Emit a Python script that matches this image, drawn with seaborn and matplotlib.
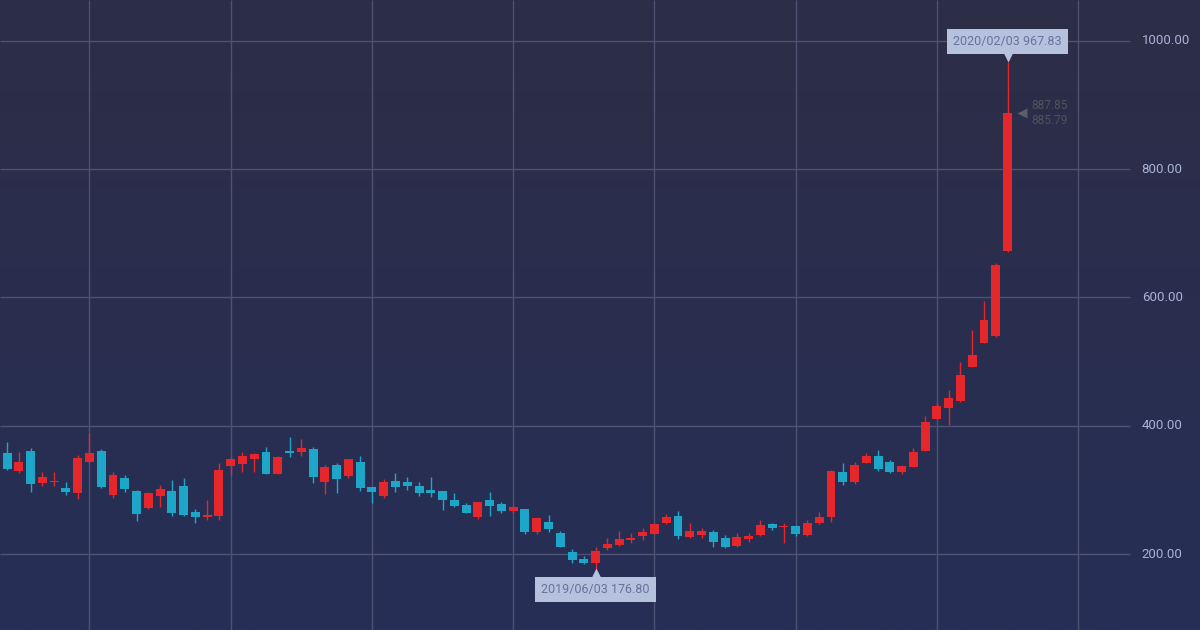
import numpy as np
import pandas as pd
import matplotlib
matplotlib.use("Agg")
import matplotlib.pyplot as plt
import matplotlib.transforms as mtransforms
import seaborn as sns

# weekly candles, 2018/06/18 .. 2020/02/03
opens = [357.5, 329.4, 360.6, 310.7, 312.3, 302.9, 295.1, 343.5, 360.6, 292.0,
         318.5, 298.2, 271.7, 290.4, 298.2, 306.0, 265.5, 257.7, 259.3, 337.2,
         340.4, 348.1, 359.0, 324.7, 360.6, 359.0, 363.7, 312.3, 338.8, 321.6,
         343.5, 304.5, 290.4, 313.8, 312.3, 306.0, 299.8, 298.2, 284.2, 276.4,
         257.7, 284.2, 278.0, 267.1, 270.2, 234.3, 249.9, 232.7, 203.1, 192.2,
         186.0, 209.4, 214.0, 221.8, 228.1, 231.2, 248.3, 259.3, 226.5, 229.6,
         234.3, 225.0, 212.5, 223.4, 229.6, 246.8, 242.1, 243.7, 229.6, 248.3,
         257.7, 327.9, 312.3, 341.9, 352.8, 343.5, 327.9, 335.7, 360.6, 410.5,
         427.7, 438.6, 491.6, 529.0, 540.0, 672.5]
highs = [374.7, 359.0, 365.3, 327.9, 327.9, 312.3, 354.4, 388.7, 363.7, 327.9,
         323.2, 299.8, 296.7, 307.6, 315.4, 318.5, 270.2, 284.2, 341.9, 351.3,
         359.0, 357.5, 366.9, 352.8, 382.5, 379.3, 366.9, 338.8, 341.9, 348.1,
         352.8, 304.5, 317.0, 326.3, 320.1, 312.3, 320.1, 298.2, 295.1, 279.5,
         281.1, 296.7, 281.1, 274.9, 270.2, 257.7, 260.8, 235.9, 207.8, 196.9,
         210.9, 225.0, 235.9, 232.7, 240.5, 248.0, 262.4, 267.1, 248.3, 240.5,
         237.4, 229.6, 232.7, 232.7, 253.0, 248.3, 248.3, 245.2, 253.0, 265.5,
         331.0, 341.9, 343.5, 357.5, 362.2, 346.6, 338.8, 365.3, 415.2, 435.5,
         455.8, 499.4, 549.3, 594.5, 653.8, 967.83]
lows = [331.0, 326.3, 296.7, 306.0, 306.0, 292.0, 285.8, 341.9, 302.9, 287.4,
        296.7, 251.5, 270.2, 273.3, 259.3, 259.3, 248.3, 253.0, 253.0, 323.2,
        327.9, 327.9, 324.7, 324.7, 351.3, 352.8, 310.7, 293.6, 295.1, 318.5,
        298.2, 279.5, 287.4, 296.7, 299.8, 290.4, 288.9, 268.6, 273.3, 263.9,
        254.6, 259.3, 263.9, 263.9, 231.2, 231.2, 234.3, 210.9, 186.0, 184.4,
        176.8, 206.2, 212.5, 217.2, 221.8, 231.2, 246.8, 223.4, 225.0, 225.0,
        210.9, 210.0, 210.9, 218.7, 228.1, 237.4, 217.2, 228.1, 228.1, 246.8,
        249.9, 307.6, 309.2, 341.9, 329.4, 326.3, 324.7, 335.7, 360.6, 410.5,
        401.2, 437.0, 491.6, 529.0, 538.4, 671.0]
closes = [332.6, 343.5, 309.2, 320.1, 313.8, 296.7, 349.7, 357.5, 304.5, 323.2,
          301.4, 262.4, 295.1, 301.4, 263.9, 260.8, 257.7, 260.8, 331.0, 348.1,
          352.8, 355.9, 324.7, 351.3, 357.5, 365.3, 320.1, 335.7, 317.0, 348.1,
          302.9, 296.7, 312.3, 304.5, 306.0, 295.1, 295.1, 284.2, 274.9, 263.9,
          281.1, 274.9, 267.1, 273.3, 234.3, 256.1, 239.0, 210.9, 190.6, 186.0,
          204.7, 215.6, 223.4, 225.0, 234.3, 246.8, 257.7, 228.1, 235.9, 235.9,
          218.7, 210.9, 226.5, 228.1, 245.2, 240.5, 243.7, 231.2, 248.3, 257.7,
          329.4, 312.3, 338.8, 352.8, 332.6, 327.9, 337.2, 359.0, 405.8, 430.8,
          443.3, 479.1, 510.3, 564.9, 650.7, 887.85]
y_ticks = [200, 400, 600, 800, 1000]
last_prices = ["887.85", "885.79"]

dates = pd.date_range("2018-06-18", periods=len(opens), freq="7D")
df = pd.DataFrame({"date": dates, "open": opens, "high": highs,
                   "low": lows, "close": closes})
df["x"] = np.arange(len(df))
df["up"] = df["close"] >= df["open"]

sns.set_theme(style="dark")
plt.rcParams["font.family"] = ["Roboto", "DejaVu Sans"]

UP = "#e5262b"
DOWN = "#1ea6c8"
GRID = "#4d5272"
LABEL = "#a9b3d6"
TIP_BG = "#b6c1de"
TIP_TXT = "#68729a"

fig = plt.figure(figsize=(12, 6.3), dpi=100)

# background gradient
bg = fig.add_axes([0, 0, 1, 1])
top = np.array([0x2d, 0x2d, 0x46]) / 255
bot = np.array([0x26, 0x2f, 0x57]) / 255
t = np.linspace(0, 1, 256)[:, None]
grad = top[None, :] * (1 - t) + bot[None, :] * t
bg.imshow(grad[:, None, :], aspect="auto", extent=[0, 1, 0, 1])
bg.set_axis_off()

ax = fig.add_axes([0, 0, 1, 1])
ax.set_facecolor("none")
ax.set_xlim(-0.6, 101.35)
ax.set_ylim(81.5, 1063.9)
for s in ax.spines.values():
    s.set_visible(False)
ax.set_xticks([])
ax.set_yticks([])
ax.grid(False)

# grid
ax.hlines(y_ticks, -0.6, 95.4, color=GRID, lw=1, zorder=1)
ax.vlines(np.arange(7, 96, 12), 81.5, 1063.9, color=GRID, lw=1, zorder=1)
for v in y_ticks:
    ax.text(96.4, v, f"{v:.2f}", color=LABEL, fontsize=9.5, va="center", ha="left")

# candles
colors = np.where(df["up"], UP, DOWN)
ax.vlines(df["x"], df["low"], df["high"], color=colors, lw=1, zorder=2)
body_low = df[["open", "close"]].min(axis=1)
body_h = (df["close"] - df["open"]).abs().clip(lower=1.5)
ax.bar(df["x"], body_h, bottom=body_low, width=0.76, color=colors,
       linewidth=0, zorder=3)

# max / min tooltips
imax = df["high"].idxmax()
imin = df["low"].idxmin()
for idx, val, dy, mk in [(imax, df.loc[imax, "high"], 14.5, "v"),
                         (imin, df.loc[imin, "low"], -15, "^")]:
    label = f"{df.loc[idx, 'date']:%Y/%m/%d} {val:.2f}"
    ax.annotate(label, (idx, val), xytext=(0, dy), textcoords="offset points",
                ha="center", va="center", fontsize=9, color=TIP_TXT,
                bbox=dict(boxstyle="square,pad=0.5", fc=TIP_BG, ec="none"),
                zorder=5)
    tr = mtransforms.offset_copy(ax.transData, fig=fig, x=0,
                                 y=(4.2 if dy > 0 else -4.0), units="points")
    ax.plot([idx], [val], marker=mk, ms=8, color=TIP_BG, mec="none",
            transform=tr, zorder=5)

# last price marker
last = df.iloc[-1]
tr = mtransforms.offset_copy(ax.transData, fig=fig, x=10.5, y=0, units="points")
ax.plot([last["x"]], [last["close"]], marker="<", ms=7, color="#5b5e6c",
        mec="none", transform=tr, zorder=4)
ax.annotate(last_prices[0], (last["x"], last["close"]), xytext=(17, 5.5),
            textcoords="offset points", fontsize=8.5, color="#50535f",
            ha="left", va="center")
ax.annotate(last_prices[1], (last["x"], last["close"]), xytext=(17, -5.5),
            textcoords="offset points", fontsize=8.5, color="#50535f",
            ha="left", va="center")

fig.savefig("out.png", dpi=100)
